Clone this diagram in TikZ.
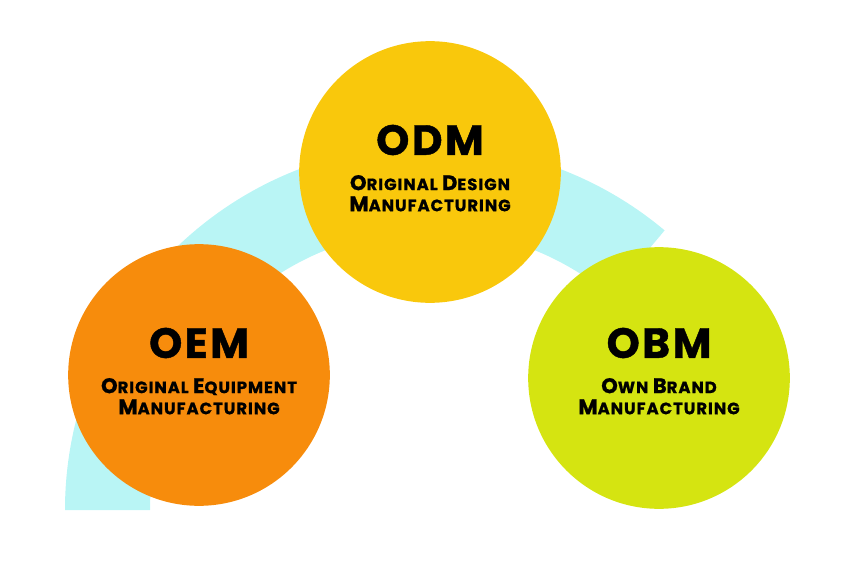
\documentclass[tikz,border=0pt]{standalone}
\usepackage{fontspec}
\setmainfont{Poppins}[LetterSpace=6,FakeBold=1]
\usetikzlibrary{positioning}
\definecolor{odmyellow}{HTML}{F9C80C}
\definecolor{oemorange}{HTML}{F78C0C}
\definecolor{obmlime}{HTML}{D5E411}
\definecolor{arccyan}{HTML}{B9F5F5}
\newcommand{\capletter}[1]{{\fontsize{18}{20}\selectfont #1}}
\tikzset{
  circ/.style={circle,minimum size=7.85cm,inner sep=0pt},
  title/.style={font=\bfseries\fontsize{36}{40}\selectfont},
  sub/.style={align=center,font=\bfseries\fontsize{14}{18}\selectfont}
}
\begin{document}
\begin{tikzpicture}
\useasboundingbox (0,0) rectangle (25.38,17.25);
% background band
\fill[arccyan] (1.95,1.95) arc[start angle=180,end angle=50,radius=10.95]
  -- ++(230:2.55) arc[start angle=50,end angle=180,radius=8.4] -- cycle;
% circles
\node[circ,fill=odmyellow] (odm) at (12.9,12.09) {};
\node[circ,fill=oemorange] (oem) at (5.97,6.0) {};
\node[circ,fill=obmlime] (obm) at (19.77,5.91) {};
% texts
\node[title] (odmt) at (12.9,13.05) {ODM};
\node[sub,below=0.35cm of odmt] {\capletter{O}RIGINAL \capletter{D}ESIGN\\\capletter{M}ANUFACTURING};
\node[title] (oemt) at (5.97,6.96) {OEM};
\node[sub,below=0.35cm of oemt] {\capletter{O}RIGINAL \capletter{E}QUIPMENT\\\capletter{M}ANUFACTURING};
\node[title] (obmt) at (19.77,6.96) {OBM};
\node[sub,below=0.35cm of obmt] {\capletter{O}WN \capletter{B}RAND\\\capletter{M}ANUFACTURING};
\end{tikzpicture}
\end{document}
